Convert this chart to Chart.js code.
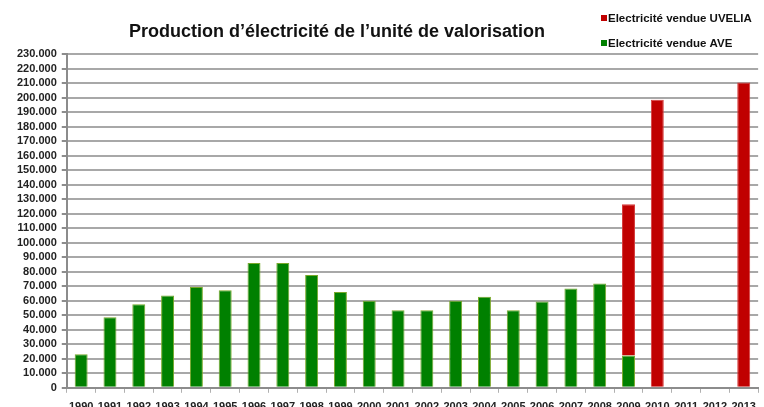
<!DOCTYPE html>
<html>
<head>
<meta charset="utf-8">
<script src="https://cdn.jsdelivr.net/npm/chart.js@4/dist/chart.umd.min.js"></script>
<style>
  html, body { margin: 0; padding: 0; background: #fff; overflow: hidden; }
  #wrap { width: 764px; height: 422px; position: relative; }
</style>
</head>
<body>
<div id="wrap"><canvas id="chart"></canvas></div>
<script>
// Years on the x axis
var years = ['1990','1991','1992','1993','1994','1995','1996','1997','1998','1999','2000','2001',
             '2002','2003','2004','2005','2006','2007','2008','2009','2010','2011','2012','2013'];

// Electricity sold, AVE (green)
var venteAVE = [23200, 48600, 57500, 63600, 69500, 67300, 86000, 86000, 77700, 66000, 60000, 53400,
                53400, 60000, 62700, 53400, 59500, 68400, 71800, 22200, null, null, null, null];

// Electricity sold, UVELIA (red), stacked on top of AVE
var venteUVELIA = [null, null, null, null, null, null, null, null, null, null, null, null,
                   null, null, null, null, null, null, null, 104300, 198500, 0, 0, 210300];

var titleText = 'Production d\u2019électricité de l\u2019unité de valorisation';

// Format thousands with a dot, like "230.000"
function formatNb(v) {
  return String(v).replace(/\B(?=(\d{3})+(?!\d))/g, '.');
}

// Title and legend are drawn at fixed spots (title is off-centre, legend top right)
var headerPlugin = {
  id: 'header',
  afterDraw: function(chart) {
    var ctx = chart.ctx;
    ctx.save();
    ctx.fillStyle = '#111';
    ctx.font = 'bold 18px "Liberation Sans"';
    ctx.textAlign = 'center';
    ctx.textBaseline = 'middle';
    ctx.fillText(titleText, 337, 32);

    var ds = chart.data.datasets;
    var rows = [ds[1], ds[0]];
    ctx.font = 'bold 11.5px "Liberation Sans"';
    ctx.textAlign = 'left';
    for (var i = 0; i < rows.length; i++) {
      var y = 18 + i * 25;
      ctx.fillStyle = rows[i].backgroundColor;
      ctx.fillRect(601, y - 3, 6, 6);
      ctx.fillStyle = '#111';
      ctx.fillText(rows[i].label, 608, y + 1);
    }
    ctx.restore();
  }
};

var chart = new Chart('chart', {
  type: 'bar',
  data: {
    labels: years,
    datasets: [
      {
        label: 'Electricité vendue AVE',
        data: venteAVE,
        backgroundColor: '#008000',
        borderColor: '#79a82a',
        borderWidth: 1
      },
      {
        label: 'Electricité vendue UVELIA',
        data: venteUVELIA,
        backgroundColor: '#c00000',
        borderColor: '#d63a3a',
        borderWidth: 1
      }
    ]
  },
  options: {
    responsive: true,
    maintainAspectRatio: false,
    animation: false,
    layout: { padding: { top: 54, right: 2, left: 12, bottom: 0 } },
    datasets: {
      bar: { categoryPercentage: 1, barPercentage: 0.45 }
    },
    plugins: {
      legend: { display: false },
      title: { display: false },
      tooltip: { enabled: false }
    },
    scales: {
      x: {
        stacked: true,
        grid: {
          drawOnChartArea: false,
          offset: true,
          tickLength: 5,
          tickColor: '#b0b0b0'
        },
        border: { color: '#8c8c8c', width: 2 },
        ticks: {
          autoSkip: false,
          maxRotation: 0,
          padding: 8,
          color: '#222',
          font: { family: 'Liberation Sans', size: 11, weight: 'bold' }
        }
      },
      y: {
        stacked: true,
        min: 0,
        max: 230000,
        grid: {
          color: '#a8a8a8',
          lineWidth: 2,
          tickLength: 5,
          tickColor: '#8c8c8c'
        },
        border: { color: '#8c8c8c', width: 2 },
        ticks: {
          autoSkip: false,
          stepSize: 10000,
          padding: 5,
          color: '#222',
          font: { family: 'Liberation Sans', size: 11, weight: 'bold' },
          callback: function(v) { return formatNb(v); }
        }
      }
    }
  },
  plugins: [headerPlugin]
});
</script>
</body>
</html>
